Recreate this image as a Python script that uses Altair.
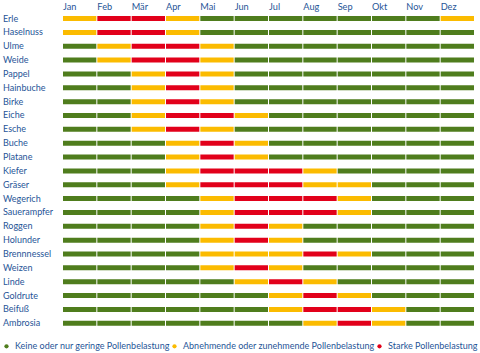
import altair as alt
import pandas as pd

plants = ["Erle", "Haselnuss", "Ulme", "Weide", "Pappel", "Hainbuche", "Birke",
          "Eiche", "Esche", "Buche", "Platane", "Kiefer", "Gräser", "Wegerich",
          "Sauerampfer", "Roggen", "Holunder", "Brennnessel", "Weizen", "Linde",
          "Goldrute", "Beifuß", "Ambrosia"]

months = ["Jan", "Feb", "Mär", "Apr", "Mai", "Jun", "Jul", "Aug", "Sep", "Okt", "Nov", "Dez"]

# G = keine/geringe, Y = ab-/zunehmend, R = stark (one letter per month)
patterns = [
    "YRRYGGGGGGGY",  # Erle
    "YRRYGGGGGGGG",  # Haselnuss
    "GYRRYGGGGGGG",  # Ulme
    "GYRRYGGGGGGG",  # Weide
    "GGYRYGGGGGGG",  # Pappel
    "GGYRYGGGGGGG",  # Hainbuche
    "GGYRYGGGGGGG",  # Birke
    "GGYRRYGGGGGG",  # Eiche
    "GGYRYGGGGGGG",  # Esche
    "GGGYRYGGGGGG",  # Buche
    "GGGYRYGGGGGG",  # Platane
    "GGGYRRRYGGGG",  # Kiefer
    "GGGYRRRYYGGG",  # Gräser
    "GGGGYRRRYGGG",  # Wegerich
    "GGGGYRRRYGGG",  # Sauerampfer
    "GGGGYRYGGGGG",  # Roggen
    "GGGGYRYGGGGG",  # Holunder
    "GGGGYYYRYGGG",  # Brennnessel
    "GGGGYRYGGGGG",  # Weizen
    "GGGGGYRYGGGG",  # Linde
    "GGGGGGYRYGGG",  # Goldrute
    "GGGGGGYRRYGG",  # Beifuß
    "GGGGGGGYRYGG",  # Ambrosia
]

level_names = {
    "G": "Keine oder nur geringe Pollenbelastung",
    "Y": "Abnehmende oder zunehmende Pollenbelastung",
    "R": "Starke Pollenbelastung",
}
level_order = [level_names["G"], level_names["Y"], level_names["R"]]
level_colors = ["#4f7d1d", "#fbbb00", "#e2001a"]

rows = []
for p, pat in zip(plants, patterns):
    for i, c in enumerate(pat):
        rows.append({"plant": p, "start": i, "end": i + 1, "level": level_names[c]})
df = pd.DataFrame(rows)
df_plants = pd.DataFrame({"plant": plants})
df_months = pd.DataFrame({"month": months, "start": list(range(12))})

FONT = "Lato"
TXT = "#1f5597"

xscale = alt.Scale(domain=[0, 12], nice=False, zero=False)
yenc = alt.Y("plant:N", sort=plants, axis=None,
             scale=alt.Scale(paddingInner=0, paddingOuter=0))

bars = alt.Chart(df).mark_bar(height=5, x2Offset=-1, cornerRadius=0).encode(
    x=alt.X("start:Q", scale=xscale, axis=None),
    x2="end:Q",
    y=yenc,
    color=alt.Color("level:N", sort=level_order,
                    scale=alt.Scale(domain=level_order, range=level_colors),
                    legend=alt.Legend(title=None, orient="none", legendX=-61, legendY=330,
                                      direction="horizontal", columns=3,
                                      symbolType="circle", symbolSize=18,
                                      symbolStrokeWidth=0, labelFont=FONT,
                                      labelFontSize=9, labelColor=TXT,
                                      labelOffset=4, columnPadding=-3,
                                      labelLimit=400)),
)

row_labels = alt.Chart(df_plants).mark_text(
    align="left", baseline="middle", font=FONT, fontSize=9, color=TXT
).encode(x=alt.value(-60), y=yenc, text="plant:N")

month_labels = alt.Chart(df_months).mark_text(
    align="left", baseline="middle", font=FONT, fontSize=9.2, color=TXT
).encode(x=alt.X("start:Q", scale=xscale, axis=None), y=alt.value(-5), text="month:N")

chart = alt.layer(bars, row_labels, month_labels).properties(
    width=412, height=318.6,
    padding={"left": 63, "top": 11.6, "right": 5, "bottom": 22.8},
    autosize=alt.AutoSizeParams(type="none"),
).configure_view(stroke=None)

chart.save("out.html", embed_options={"renderer": "svg", "actions": False})
